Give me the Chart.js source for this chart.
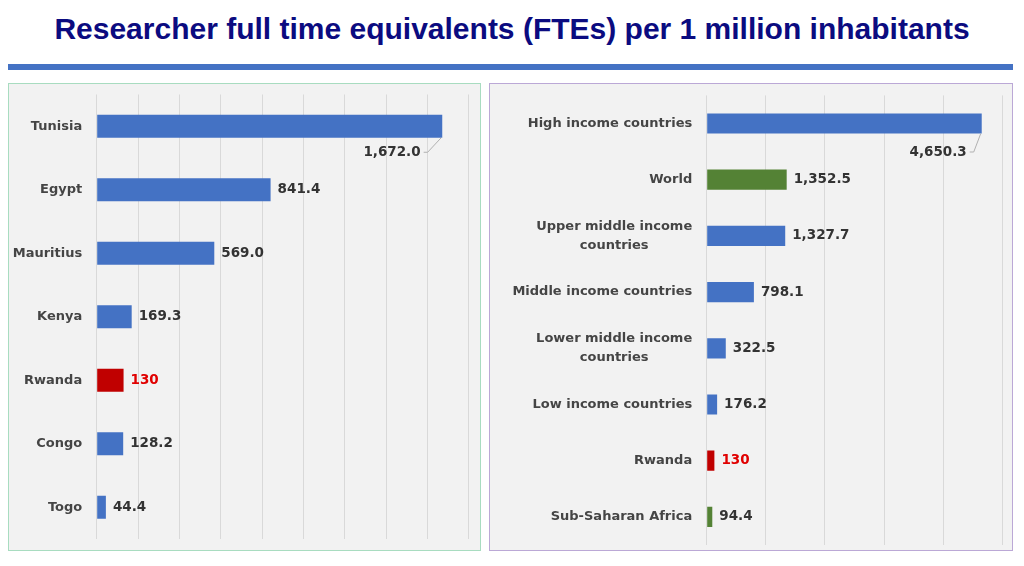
<!DOCTYPE html>
<html>
<head>
<meta charset="utf-8">
<script src="https://cdn.jsdelivr.net/npm/chart.js@4.4.1/dist/chart.umd.min.js"></script>
<style>
  html, body { margin: 0; padding: 0; background: #fff; width: 1024px; height: 566px; overflow: hidden; }
  #title { position: absolute; left: 0; top: 9px; width: 1024px; margin: 0; text-align: center;
           font: bold 30px "Liberation Sans", Arial, sans-serif; color: #0b0b80; line-height: 40px; }
  #rule { position: absolute; left: 8px; top: 64px; width: 1005px; height: 6px; background: #4472c4; }
  .panel { position: absolute; top: 83px; height: 468px; box-sizing: border-box; background: #f2f2f2; }
  #leftPanel { left: 8px; width: 473px; border: 1px solid #a8dcc0; }
  #rightPanel { left: 489px; width: 524px; border: 1px solid #bba8d6; }
  .wrap { position: relative; width: 100%; height: 100%; }
</style>
</head>
<body>
<h1 id="title">Researcher full time equivalents (FTEs) per 1 million inhabitants</h1>
<div id="rule"></div>
<div class="panel" id="leftPanel"><div class="wrap"><canvas id="leftChart"></canvas></div></div>
<div class="panel" id="rightPanel"><div class="wrap"><canvas id="rightChart"></canvas></div></div>

<script>
// African countries
const leftCategories = ['Tunisia', 'Egypt', 'Mauritius', 'Kenya', 'Rwanda', 'Congo', 'Togo'];
const leftValues = [1672.0, 841.4, 569.0, 169.3, 130, 128.2, 44.4];
const leftMax = 1800, leftStep = 200;

// income groups / regions
const rightCategories = [
  ['High income countries'],
  ['World'],
  ['Upper middle income', 'countries'],
  ['Middle income countries'],
  ['Lower middle income', 'countries'],
  ['Low income countries'],
  ['Rwanda'],
  ['Sub-Saharan Africa']
];
const rightValues = [4650.3, 1352.5, 1327.7, 798.1, 322.5, 176.2, 130, 94.4];
const rightMax = 5000, rightStep = 1000;

const BLUE = '#4472c4', RED = '#c00000', GREEN = '#548235';
const FONT = '"DejaVu Sans", sans-serif';

function barColor(name) {
  if (name === 'Rwanda') return RED;
  if (name === 'World' || name === 'Sub-Saharan Africa') return GREEN;
  return BLUE;
}

function fmt(v, name) {
  if (name === 'Rwanda') return String(v);
  return v.toLocaleString('en-US', { minimumFractionDigits: 1, maximumFractionDigits: 1 });
}

// draws category names and value labels
const barLabels = {
  id: 'barLabels',
  afterDatasetsDraw(chart, args, opts) {
    const ctx = chart.ctx;
    const yScale = chart.scales.y;
    const area = chart.chartArea;
    const meta = chart.getDatasetMeta(0);
    const values = chart.data.datasets[0].data;
    ctx.save();
    ctx.textBaseline = 'middle';

    ctx.font = 'bold 13px ' + FONT;
    chart.data.labels.forEach((lab, i) => {
      const lines = Array.isArray(lab) ? lab : [lab];
      const y = yScale.getPixelForTick(i);
      const right = area.left - opts.tickPad;
      const w = Math.max(...lines.map(l => ctx.measureText(l).width));
      ctx.fillStyle = '#454545';
      ctx.textAlign = 'center';
      lines.forEach((l, k) => {
        ctx.fillText(l, right - w / 2, y + (k - (lines.length - 1) / 2) * opts.lineH);
      });
    });

    ctx.font = 'bold 13.5px ' + FONT;
    meta.data.forEach((bar, i) => {
      const lab = chart.data.labels[i];
      const name = Array.isArray(lab) ? lab.join(' ') : lab;
      const text = fmt(values[i], name);
      ctx.fillStyle = name === 'Rwanda' ? '#e00000' : '#333333';
      if (i === 0) {
        // label sits under the long bar with a leader line
        const rx = bar.x - opts.firstDx;
        const ly = bar.y + opts.firstDy;
        ctx.textAlign = 'right';
        ctx.fillText(text, rx, ly);
        ctx.strokeStyle = '#b0b0b0';
        ctx.lineWidth = 1;
        ctx.beginPath();
        ctx.moveTo(rx + 3, ly);
        ctx.lineTo(rx + 7, ly);
        ctx.lineTo(bar.x - 1, bar.y + bar.height / 2);
        ctx.stroke();
      } else {
        ctx.textAlign = 'left';
        ctx.fillText(text, bar.x + 7, bar.y);
      }
    });
    ctx.restore();
  }
};

function makeChart(id, labels, values, max, step, o) {
  const names = labels.map(l => Array.isArray(l) ? l.join(' ') : l);
  return new Chart(document.getElementById(id), {
    type: 'bar',
    data: {
      labels: labels,
      datasets: [{
        data: values,
        backgroundColor: names.map(barColor),
        borderWidth: 0,
        categoryPercentage: 1,
        barPercentage: 0.36
      }]
    },
    options: {
      indexAxis: 'y',
      responsive: true,
      maintainAspectRatio: false,
      animation: false,
      layout: { padding: { left: 0, right: o.padRight, top: o.padTop, bottom: o.padBottom } },
      plugins: {
        legend: { display: false },
        tooltip: { enabled: false },
        barLabels: { tickPad: 14.5, lineH: 19, firstDx: o.firstDx, firstDy: o.firstDy }
      },
      scales: {
        x: {
          min: 0,
          max: max,
          ticks: { display: false, stepSize: step },
          grid: { color: '#d9d9d9', lineWidth: 1, drawTicks: false },
          border: { display: false },
          afterFit: s => { s.height = 0; }
        },
        y: {
          grid: { display: false },
          ticks: { display: false },
          border: { display: false },
          afterFit: s => { s.width = o.axisW; }
        }
      }
    },
    plugins: [barLabels]
  });
}

makeChart('leftChart', leftCategories, leftValues, leftMax, leftStep,
  { axisW: 87.7, padRight: 11.3, padTop: 10.5, padBottom: 11, firstDx: 21.6, firstDy: 26 });
makeChart('rightChart', rightCategories, rightValues, rightMax, rightStep,
  { axisW: 216.7, padRight: 9.6, padTop: 11.4, padBottom: 5, firstDx: 15, firstDy: 28.5 });
</script>
</body>
</html>
